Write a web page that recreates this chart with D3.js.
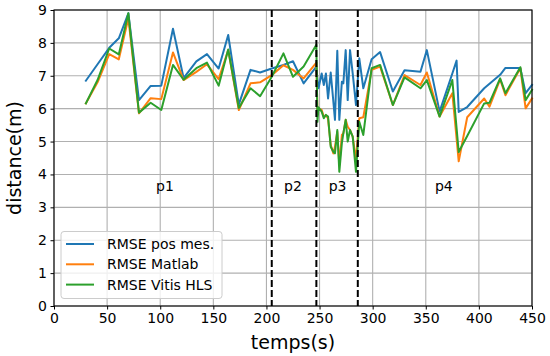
<!DOCTYPE html>
<html><head><meta charset="utf-8">
<script src="https://cdn.jsdelivr.net/npm/d3@7"></script>
<style>body{margin:0;background:#fff}svg{display:block;font-family:"DejaVu Sans",sans-serif}</style>
</head><body><svg id="c" width="550" height="356"></svg>
<script>
const times = [30,41,52,61,70,80,91,101,112,122,134,144,155,164,174,185,194,205,216,225,235,247,
  248,249,252,254,256,258,260.5,263,264.5,266.7,268.6,271,272.4,274.6,276.5,278.7,281.2,284.3,287.4,291.2,
  299,307,319,330,345,351,363,375,379,381,389,405,410,420,425,439,444,450];
const rmsePos = [6.85,7.35,7.85,8.14,8.9,6.26,6.69,6.7,8.43,6.93,7.44,7.66,7.22,8.24,6.13,7.18,7.1,7.22,7.33,7.44,6.77,7.28,
  6.9,6.62,7.07,6.72,7.07,6.31,7.1,6.21,5.66,7.76,5.66,6.82,6.77,7.78,6.26,7.78,7.07,6.11,7.53,6.62,
  7.5,7.72,6.52,7.17,7.12,7.78,5.91,7.07,7.46,5.9,6.05,6.62,6.76,7.03,7.24,7.24,6.47,6.72];
const rmseMatlab = [6.16,6.8,7.66,7.5,8.75,5.86,6.32,6.29,7.71,6.87,7.12,7.35,6.9,7.78,5.96,6.77,6.8,7.02,7.32,7.18,6.92,7.4,
  5.9,6.01,5.96,5.75,5.8,5.7,4.9,4.64,4.84,5.3,4.29,5.2,5.25,5.66,5.45,5.35,5.15,4.44,5.71,5.74,
  7.18,7.28,6.11,7.02,6.72,7.1,5.76,6.47,5.09,4.4,5.74,6.31,6.06,6.89,6.41,7.23,6.01,6.31];
const rmseVitis = [6.16,6.87,7.83,7.65,8.9,5.88,6.18,5.96,7.33,6.88,7.23,7.4,6.7,7.8,6.02,6.62,6.38,6.97,7.68,6.97,7.28,7.94,
  5.6,6.04,5.91,5.71,5.81,5.76,4.84,4.69,4.64,5.35,4.08,4.95,5.25,5.66,5.0,5.35,5.15,4.08,5.6,5.2,
  7.23,7.33,6.11,6.95,6.62,6.87,5.76,6.87,5.41,4.68,5.17,6.16,6.18,6.92,6.47,7.26,6.26,6.57];
const seriesNames = ["RMSE pos mes.","RMSE Matlab","RMSE Vitis HLS"];
const seriesColors = ["#1f77b4","#ff7f0e","#2ca02c"];
const phaseBounds = [205,247,286];
const phaseLabels = ["p1","p2","p3","p4"];
const phaseLabelX = [104.5,225,267,367];
const phaseLabelY = 3.65;
const xTicks = [0,50,100,150,200,250,300,350,400,450];
const yTicks = [0,1,2,3,4,5,6,7,8,9];

const svg = d3.select("#c");
const L=54,R=532,T=10,B=306;
const x = d3.scaleLinear().domain([0,450]).range([L,R]);
const y = d3.scaleLinear().domain([0,9]).range([B,T]);

// grid
const g = svg.append("g");
g.selectAll(".vg").data(xTicks).join("line")
  .attr("x1",d=>x(d)).attr("x2",d=>x(d)).attr("y1",T).attr("y2",B)
  .attr("stroke","#b0b0b0").attr("stroke-width",1.1);
g.selectAll(".hg").data(yTicks).join("line")
  .attr("x1",L).attr("x2",R).attr("y1",d=>y(d)).attr("y2",d=>y(d))
  .attr("stroke","#b0b0b0").attr("stroke-width",1.1);

// series
const data = [rmsePos, rmseMatlab, rmseVitis];
const line = d3.line().x((d,i)=>x(times[i])).y(d=>y(d));
data.forEach((vals,k)=>{
  svg.append("path").datum(vals).attr("d",line)
    .attr("fill","none").attr("stroke",seriesColors[k]).attr("stroke-width",2)
    .attr("stroke-linejoin","round").attr("stroke-linecap","square");
});

// phase lines
svg.selectAll(".pb").data(phaseBounds).join("line")
  .attr("x1",d=>x(d)).attr("x2",d=>x(d)).attr("y1",T).attr("y2",B)
  .attr("stroke","#000").attr("stroke-width",2).attr("stroke-dasharray","7,3");
svg.selectAll(".pl").data(phaseLabels).join("text")
  .attr("x",(d,i)=>x(phaseLabelX[i])).attr("y",y(phaseLabelY))
  .attr("text-anchor","middle").attr("dominant-baseline","central")
  .attr("font-size",14).attr("fill","#000").text(d=>d);

// axes
const xa = svg.append("g").attr("transform",`translate(0,${B})`)
  .call(d3.axisBottom(x).tickValues(xTicks).tickSize(3.5).tickPadding(3.5).tickFormat(d3.format("d")));
const ya = svg.append("g").attr("transform",`translate(${L},0)`)
  .call(d3.axisLeft(y).tickValues(yTicks).tickSize(3.5).tickPadding(3.5).tickFormat(d3.format("d")));
[xa,ya].forEach(a=>{
  a.selectAll("text").attr("font-size",14).attr("font-family","DejaVu Sans").attr("fill","#000");
  a.select(".domain").remove();
  a.selectAll(".tick line").attr("stroke","#000").attr("stroke-width",1);
});
// spines
svg.append("rect").attr("x",L).attr("y",T).attr("width",R-L).attr("height",B-T)
  .attr("fill","none").attr("stroke","#000").attr("stroke-width",1.1);

// axis labels
svg.append("text").attr("x",(L+R)/2).attr("y",349).attr("text-anchor","middle")
  .attr("font-size",19).text("temps(s)");
svg.append("text").attr("transform",`translate(21,${(T+B)/2}) rotate(-90)`).attr("text-anchor","middle")
  .attr("font-size",19).text("distance(m)");

// legend
const lg = svg.append("g");
lg.append("rect").attr("x",61).attr("y",231.5).attr("width",161).attr("height",67).attr("rx",3)
  .attr("fill","#fff").attr("fill-opacity",0.8).attr("stroke","#ccc").attr("stroke-width",1);
seriesNames.forEach((n,i)=>{
  const yy = 244 + i*20.3;
  lg.append("line").attr("x1",66).attr("x2",94).attr("y1",yy).attr("y2",yy)
    .attr("stroke",seriesColors[i]).attr("stroke-width",2);
  lg.append("text").attr("x",107).attr("y",yy).attr("dominant-baseline","central")
    .attr("font-size",14).text(n);
});
</script></body></html>
